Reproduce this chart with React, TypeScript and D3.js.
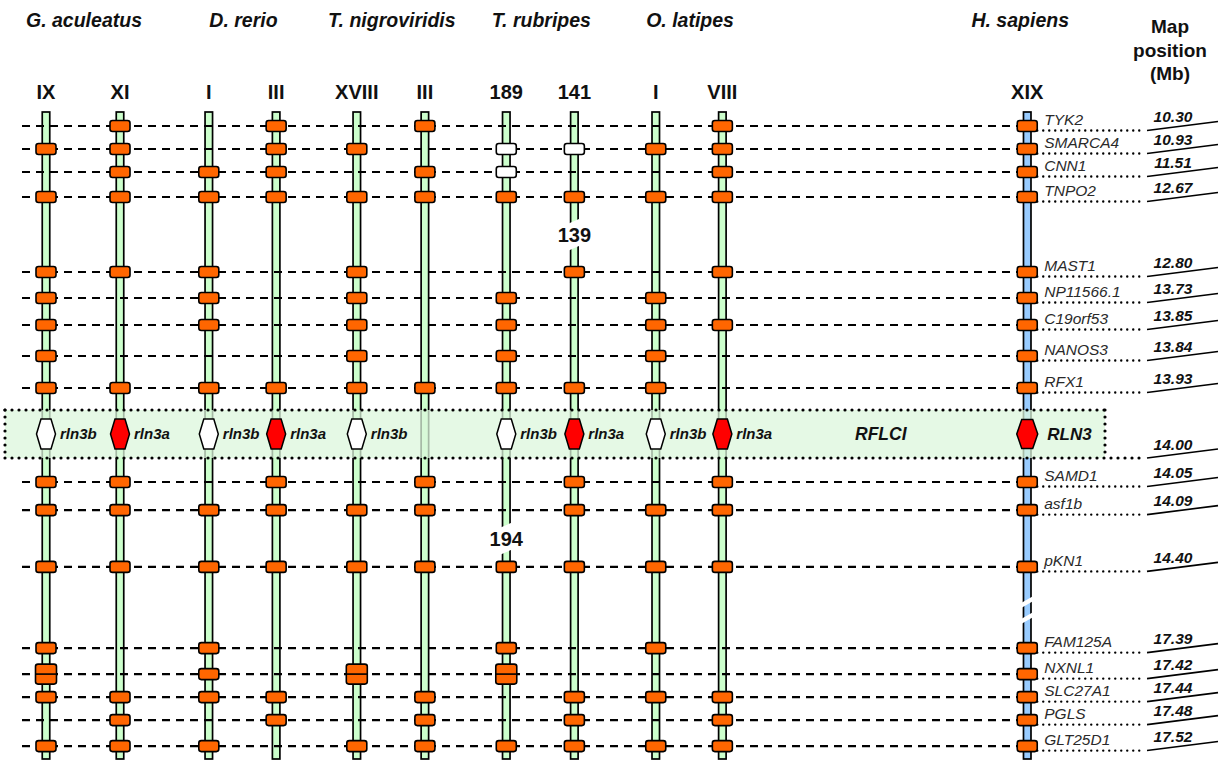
import React from "react";
import * as d3 from "d3";

// ---------- DATA ----------
const speciesNames = ["G. aculeatus", "D. rerio", "T. nigroviridis", "T. rubripes", "O. latipes", "H. sapiens"];
const chromLabels = ["IX", "XI", "I", "III", "XVIII", "III", "189", "141", "I", "VIII", "XIX"];
const chromSpecies = [0, 0, 1, 1, 2, 2, 3, 3, 4, 4, 5];
const humanGenes = ["TYK2", "SMARCA4", "CNN1", "TNPO2", "MAST1", "NP11566.1", "C19orf53", "NANOS3", "RFX1", "RLN3",
  "SAMD1", "asf1b", "pKN1", "FAM125A", "NXNL1", "SLC27A1", "PGLS", "GLT25D1"];
const mapPositions = ["10.30", "10.93", "11.51", "12.67", "12.80", "13.73", "13.85", "13.84", "13.93", "14.00",
  "14.05", "14.09", "14.40", "17.39", "17.42", "17.44", "17.48", "17.52"];
// o = orthologue, w = unassigned orthologue, d = duplicated, a = rln3a / RLN3, b = rln3b, . = absent
const markerCodes = [
  ".o.ooooooboooodo.o", // IX
  "ooooo...oaooo..ooo", // XI
  "..ooooo.ob.ooooo.o", // D. rerio I
  "oooo....oaooo..oo.", // D. rerio III
  ".o.oooooob.oo.d..o", // XVIII
  "o.oo....o.ooo..ooo", // T. nig III
  ".wwo.oooob..ood..o", // 189
  ".w.oo...oaooo..ooo", // 141
  ".o.o.oooob.ooo.o.o", // O. latipes I
  "ooooo.o..aooo..ooo", // VIII
  "oooooooooaoooooooo", // XIX
];
const hexLabels = ["rln3b", "rln3a", "rln3b", "rln3a", "rln3b", "", "rln3b", "rln3a", "rln3b", "rln3a", "RLN3"];
const breakCols = [7, 6, 10];
const breakAfterRow = [3, 11, 12];
const breakLabels = ["139", "194", ""];
const boxLabel = "RFLCI";
const mapHeader = ["Map", "position", "(Mb)"];

// ---------- LAYOUT ----------
const colSlot = [0, 1, 2.2, 3.11, 4.2, 5.12, 6.22, 7.14, 8.24, 9.14, 13.26];
const rowSlot = [0, 1, 2, 3.09, 6.35, 7.48, 8.65, 10, 11.39, 13.39, 15.48, 16.7, 19.17, 22.7, 23.83, 24.83, 25.83, 26.96];

const W = 1221, H = 762;
const FONT = "'Liberation Sans', Arial, Helvetica, sans-serif";
const x = d3.scaleLinear().domain([0, 1]).range([46, 120]);
const y = d3.scaleLinear().domain([0, 1]).range([126, 149]);
const HUMAN = 10;
const RLN_ROW = 9;
const chromTop = 112, chromBottom = 759, chromW = 7.5;
const boxTop = 410, boxBottom = 458, boxLeft = 5, boxRight = 1105;
const dashStart = 22;
const dotEnd = 1145, slantEnd = 1218;
const ORANGE = "#ff6600";

function hexPath(cx: number, cy: number, hw: number, iw: number, hh: number) {
  const p: [number, number][] = [
    [cx - hw, cy], [cx - iw, cy - hh], [cx + iw, cy - hh],
    [cx + hw, cy], [cx + iw, cy + hh], [cx - iw, cy + hh],
  ];
  return "M" + p.map((d) => d.join(",")).join("L") + "Z";
}

export default function App() {
  const cx = colSlot.map((s) => x(s));
  const ry = rowSlot.map((s) => y(s));
  const xh = cx[HUMAN];

  const speciesX = speciesNames.map((_, si) => {
    const xs = cx.filter((_, i) => chromSpecies[i] === si);
    return d3.mean(xs) as number;
  });

  const lineY = (r: number) => (r === RLN_ROW ? boxBottom : ry[r] + 4.5);

  return (
    <div style={{ position: "absolute", left: 0, top: 0 }}>
      <svg width={W} height={H} style={{ display: "block", background: "#fff" }} fontFamily={FONT}>
        {/* species headers */}
        {speciesNames.map((s, i) => (
          <text key={"sp" + i} x={i === 5 ? speciesX[i] - 7 : speciesX[i] + 1} y={27} textAnchor="middle"
            fontSize={19.5} fontWeight="bold" fontStyle="italic" fill="#111">{s}</text>
        ))}
        {mapHeader.map((t, i) => (
          <text key={"mh" + i} x={1170} y={33 + i * 23.5} textAnchor="middle" fontSize={19} fontWeight="bold" fill="#111">{t}</text>
        ))}
        {chromLabels.map((c, i) => (
          <text key={"cl" + i} x={cx[i]} y={99} textAnchor="middle" fontSize={20} fontWeight="bold" fill="#111">{c}</text>
        ))}

        {/* chromosomes */}
        {cx.map((xc, i) => (
          <rect key={"ch" + i} x={xc - chromW / 2} y={chromTop} width={chromW} height={chromBottom - chromTop}
            fill={i === HUMAN ? "#99ccff" : "#ccffcc"} stroke="#000" strokeWidth={1.7} />
        ))}

        {/* dashed connecting lines */}
        {ry.map((yy, r) => r === RLN_ROW ? null : (
          <line key={"dl" + r} x1={dashStart} x2={xh - 10} y1={yy} y2={yy}
            stroke="#000" strokeWidth={2.1} strokeDasharray="8 6" />
        ))}

        {/* highlighted RFLCI region */}
        <rect x={boxLeft} y={boxTop} width={boxRight - boxLeft} height={boxBottom - boxTop} fill="#dcf7dc" fillOpacity={0.75} />
        <g stroke="#000" strokeWidth={3.2} strokeLinecap="round" strokeDasharray="0 7" fill="none">
          <line x1={boxLeft} x2={boxRight} y1={boxTop} y2={boxTop} />
          <line x1={boxLeft} x2={dotEnd} y1={boxBottom} y2={boxBottom} />
          <line x1={boxLeft} x2={boxLeft} y1={boxTop} y2={boxBottom} />
          <line x1={boxRight} x2={boxRight} y1={boxTop} y2={boxBottom} />
        </g>
        <text x={(cx[9] + xh) / 2 + 6} y={440} textAnchor="middle" fontSize={17.5} fontWeight="bold" fontStyle="italic" fill="#111">{boxLabel}</text>

        {/* chromosome breaks */}
        {breakCols.map((c, i) => {
          const xc = cx[c];
          const mid = (ry[breakAfterRow[i]] + ry[breakAfterRow[i] + 1]) / 2;
          if (c === HUMAN) {
            return (
              <g key={"br" + i} fill="#fff">
                {[-10, 6].map((o, k) => (
                  <polygon key={k} points={`${xc - 7},${mid + o + 6} ${xc + 7},${mid + o - 2} ${xc + 7},${mid + o + 3} ${xc - 7},${mid + o + 11}`} />
                ))}
              </g>
            );
          }
          return (
            <g key={"br" + i}>
              <polygon fill="#fff" points={`${xc - 8},${mid - 10} ${xc + 8},${mid - 17} ${xc + 8},${mid + 10} ${xc - 8},${mid + 17}`} />
              <text x={xc} y={mid + 7} textAnchor="middle" fontSize={20} fontWeight="bold" fill="#111">{breakLabels[i]}</text>
            </g>
          );
        })}

        {/* gene markers */}
        {markerCodes.map((codes, c) => codes.split("").map((code, r) => {
          const xc = cx[c];
          const yy = ry[r];
          if (code === "o" || code === "w") {
            return <rect key={`m${c}-${r}`} x={xc - 10} y={yy - 5.5} width={20} height={11} rx={2.5}
              fill={code === "o" ? ORANGE : "#fff"} stroke="#000" strokeWidth={1.6} />;
          }
          if (code === "d") {
            return (
              <g key={`m${c}-${r}`}>
                <rect x={xc - 10.5} y={yy - 10} width={21} height={20} rx={2.5} fill={ORANGE} stroke="#000" strokeWidth={1.6} />
                <line x1={xc - 10.5} x2={xc + 10.5} y1={yy} y2={yy} stroke="#000" strokeWidth={1.6} />
              </g>
            );
          }
          if (code === "a" || code === "b") {
            const human = c === HUMAN;
            return (
              <g key={`m${c}-${r}`}>
                <path d={human ? hexPath(xc, yy, 10.5, 5.5, 14.5) : hexPath(xc, yy, 9.5, 5, 15)}
                  fill={code === "a" ? "#ff0000" : "#fff"} stroke="#000" strokeWidth={1.5} />
                <text x={xc + (human ? 20 : 14)} y={human ? 440 : 439} fontSize={human ? 17 : 15}
                  fontWeight="bold" fontStyle="italic" fill="#111">{hexLabels[c]}</text>
              </g>
            );
          }
          return null;
        }))}

        {/* human gene annotations */}
        {humanGenes.map((g, r) => {
          const ly = lineY(r);
          return (
            <g key={"hg" + r}>
              {r !== RLN_ROW && (
                <>
                  <line x1={xh + 10} x2={dotEnd} y1={ly} y2={ly} stroke="#000" strokeWidth={2.4}
                    strokeLinecap="round" strokeDasharray="0 6" />
                  <text x={xh + 17} y={ry[r] - 1} fontSize={15.5} fontStyle="italic" fill="#2a2a2a">{g}</text>
                </>
              )}
              <line x1={dotEnd + 2} x2={slantEnd} y1={ly} y2={ly - 9} stroke="#000" strokeWidth={1.6} />
              <text x={1173} y={ly - 8.5} textAnchor="middle" fontSize={15.5} fontWeight="bold" fontStyle="italic" fill="#111">{mapPositions[r]}</text>
            </g>
          );
        })}
      </svg>
    </div>
  );
}
